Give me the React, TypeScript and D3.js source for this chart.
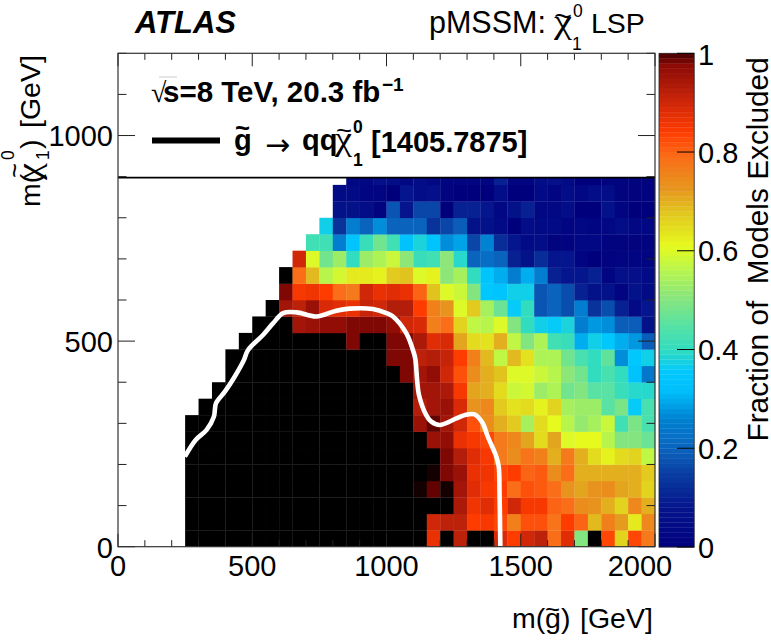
import React from "react";
import * as d3 from "d3";

const W = 771, H = 640;
const binW = 50, binH = 40;
const xTicks = [0, 500, 1000, 1500, 2000];
const yTicks = [0, 500, 1000];
const zTicks = [0, 0.2, 0.4, 0.6, 0.8, 1];

// first filled column of each row (in bins of 50 GeV), bottom row first
const rowStart = [5,5,5,5,5,5,5,5,6,7,8,8,9,10,11,12,12,13,14,15,16,16,17];
const row00 = [1,1,1,1,1,1,1,1,1,1,1,1,1,1,1,1,1,1,.87,1,.92,1,1,.89,.84,.9,.92,.79,.88,.5,1,.83,.66,.83,.77];
const row01 = [1,1,1,1,1,1,1,1,1,1,1,1,1,1,1,1,1,1,.9,.92,.92,.84,.85,.83,.76,.82,.82,.78,.84,.8,.69,.76,.72,.63,.75];
const row02 = [1,1,1,1,1,1,1,1,1,1,1,1,1,1,1,1,1,1,1,1,.94,.86,.88,.84,.9,.85,.85,.8,.79,.74,.73,.7,.66,.75,.7];
const row03 = [1,1,1,1,1,1,1,1,1,1,1,1,1,1,1,1,1,.999,.99,.999,.95,.88,.85,.84,.79,.82,.81,.79,.73,.71,.73,.74,.71,.7,.66];
const row04 = [1,1,1,1,1,1,1,1,1,1,1,1,1,1,1,1,1,1,.999,.98,.96,.87,.86,.83,.84,.8,.81,.74,.79,.7,.7,.7,.7,.7,.67];
const row05 = [1,1,1,1,1,1,1,1,1,1,1,1,1,1,1,1,1,1,1,.98,.93,.88,.85,.77,.74,.78,.76,.7,.77,.7,.65,.62,.65,.66,.57];
const row06 = [1,1,1,1,1,1,1,1,1,1,1,1,1,1,1,1,1,1,.96,.97,.87,.85,.83,.77,.75,.71,.65,.71,.6,.61,.61,.56,.5,.5,.47];
const row07 = [1,1,1,1,1,1,1,1,1,1,1,1,1,1,1,1,1,.96,.99,.95,.9,.82,.74,.7,.67,.54,.65,.61,.56,.52,.54,.58,.42,.49,.43];
const row08 = [1,1,1,1,1,1,1,1,1,1,1,1,1,1,1,1,.93,.95,.96,.89,.73,.75,.67,.64,.65,.62,.66,.54,.53,.53,.45,.49,.36,.43];
const row09 = [1,1,1,1,1,1,1,1,1,1,1,1,1,1,1,.95,.95,.94,.85,.71,.7,.65,.58,.59,.53,.55,.48,.5,.45,.45,.41,.39,.39];
const row10 = [1,1,1,1,1,1,1,1,1,1,1,1,1,.98,.95,.97,.9,.82,.74,.7,.68,.6,.6,.58,.56,.51,.48,.4,.43,.4,.33,.24];
const row11 = [1,1,1,1,1,1,1,1,1,1,1,1,.98,.98,.92,.93,.91,.84,.76,.69,.57,.69,.64,.55,.55,.48,.43,.4,.46,.27,.35,.37];
const row12 = [1,1,1,1,1,1,1,1,.98,1,1,.98,.98,.94,.88,.89,.71,.65,.64,.7,.57,.5,.55,.42,.41,.3,.37,.35,.3,.28,.19];
const row13 = [1,1,1,.95,.96,.97,.97,.98,.98,.98,.97,.9,.89,.76,.79,.66,.57,.56,.6,.5,.4,.37,.36,.38,.25,.28,.27,.19,.19,.07];
const row14 = [1,.95,.92,.96,.89,.88,.87,.91,.9,.93,.93,.84,.76,.73,.6,.67,.54,.47,.36,.4,.18,.2,.17,.25,.13,.17,.1,.04,.08];
const row15 = [.98,.85,.86,.84,.79,.77,.9,.87,.88,.87,.8,.68,.6,.58,.5,.35,.34,.37,.37,.18,.2,.17,.1,.07,.07,.02,.07,.04];
const row16 = [1,.79,.69,.56,.59,.63,.63,.62,.67,.68,.6,.62,.51,.54,.4,.34,.3,.25,.3,.25,.1,.08,.08,.1,.02,.06,.06,.04];
const row17 = [.9,.6,.48,.53,.4,.53,.55,.58,.51,.41,.42,.51,.39,.2,.22,.2,.1,.07,.12,.08,.08,.02,0,.01,.02,.02,.02];
const row18 = [.42,.42,.25,.34,.41,.48,.42,.33,.38,.34,.27,.29,.16,.26,.12,.08,.04,.05,.01,.01,.03,.03,.01,.01,.01,.01];
const row19 = [.37,.13,.25,.2,.27,.2,.2,.2,.13,.16,.19,.07,.07,.04,0,.05,.04,.04,.02,.03,.02,.03,.05,.03,.03];
const row20 = [.07,.07,.05,.01,.18,.08,.16,.16,0,.1,.1,.08,.03,.07,.1,.03,.03,.05,0,0,.07,.02,0,0];
const row21 = [.04,.04,.02,.02,0,.08,.05,.06,.01,0,0,0,.05,0,0,.04,.02,.05,.03,.05,.05,.01,.01,.01];
const row22 = [.03,.03,.06,.05,.03,.05,.03,.02,.02,.02,.02,.1,.02,.02,.05,.06,.04,0,0,.01,.01,.01,.01];
const rows = [row00,row01,row02,row03,row04,row05,row06,row07,row08,row09,row10,row11,row12,row13,row14,row15,row16,row17,row18,row19,row20,row21,row22];

const limitX = [249,290,330,357,365,398,435,469,484,540,577,615,665,739,813,863,949,1000,1024,1074,1102,1108,1114,1121,1148,1167,1198,1260,1291,1328,1358,1377,1409,1418,1421,1424];
const limitY = [219,260,284,316,349,377,414,454,478,515,543,568,570,560,574,579,578,568,560,519,471,454,405,369,320,304,296,312,320,322,301,268,219,195,130,0];

const colorStops = [0,.078,.146,.2,.26,.314,.355,.4,.44,.51,.557,.61,.68,.725,.79,.84,.88,.929,.976,.996,1];
const colorValues = ["#00007d","#05148c","#0a3ca0","#0a64be","#0082d2","#00befa","#00c8ff","#32dcbe","#50e1aa","#8ce678","#b4f550","#e6fa1e","#e1c31e","#e6961e","#fa6e19","#ff3c00","#e12d05","#b41e0a","#8c0a05","#500000","#000000"];

const font = "'Liberation Sans', Arial, sans-serif";
const serif = "'Liberation Serif', serif";

export default function App() {
  const x = d3.scaleLinear().domain([0, 2000]).range([118, 655]);
  const y = d3.scaleLinear().domain([0, 1200]).range([546.7, 53.3]);
  const z = d3.scaleLinear().domain([0, 1]).range([547, 53.3]);
  const color = d3.scaleLinear<string>().domain(colorStops).range(colorValues).interpolate(d3.interpolateRgb);
  const line = d3.line<number>().x((_, i) => x(limitX[i])).y((_, i) => y(limitY[i])).curve(d3.curveCatmullRom.alpha(0.5));
  const bands = d3.range(0, 100);
  const minorX = d3.range(0, 2001, 100);
  const minorY = d3.range(0, 1201, 100);
  return (
    <svg width={W} height={H} viewBox={`0 0 ${W} ${H}`} style={{ position: "absolute", left: 0, top: 0, background: "#fff" }} fontFamily={font} fill="#000">
      <defs>
        <clipPath id="plot"><rect x={118} y={53.3} width={537} height={493.4} /></clipPath>
      </defs>
      <g clipPath="url(#plot)">
        {rows.map((r, j) => r.map((v, k) => {
          const gx = (rowStart[j] + k) * binW, gy = j * binH;
          return <rect key={`${j}-${k}`} x={x(gx)} y={y(gy + binH)} width={x(gx + binW) - x(gx) + 0.3} height={y(gy) - y(gy + binH) + 0.3} fill={color(v)} />;
        }))}
        <path d={line(limitX) ?? ""} fill="none" stroke="#fff" strokeWidth={4.6} strokeLinejoin="round" />
        <rect x={118} y={53.3} width={537} height={124} fill="#fff" />
      </g>
      <line x1={118} x2={655} y1={y(900) + 1} y2={y(900) + 1} stroke="#000" strokeWidth={1.8} />

      {/* ticks */}
      <g stroke="#222" strokeWidth={1}>
        {minorX.map((t) => {
          const len = t % 500 === 0 ? 13 : 6.5;
          return <g key={t}>
            <line x1={x(t)} x2={x(t)} y1={546.7} y2={546.7 - len} />
            <line x1={x(t)} x2={x(t)} y1={53.3} y2={53.3 + len} />
          </g>;
        })}
        {minorY.map((t) => {
          const len = t % 500 === 0 ? 17 : 8.5;
          return <g key={t}>
            <line x1={118} x2={118 + len} y1={y(t)} y2={y(t)} />
            <line x1={655} x2={655 - len} y1={y(t)} y2={y(t)} />
          </g>;
        })}
      </g>
      <rect x={118} y={53.3} width={537} height={493.4} fill="none" stroke="#333" strokeWidth={1.2} />

      {/* colour bar */}
      {bands.map((b) => (
        <rect key={b} x={659} width={35.2} y={z((b + 1) / 100)} height={z(b / 100) - z((b + 1) / 100) + 0.3} fill={color((b + 0.5) / 100)} />
      ))}
      <rect x={659} y={53.3} width={35.2} height={493.7} fill="none" stroke="#222" strokeWidth={0.8} />
      {zTicks.map((t) => (
        <line key={t} x1={677} x2={694.2} y1={z(t)} y2={z(t)} stroke="#000" strokeWidth={1} />
      ))}
      {zTicks.map((t) => (
        <text key={t} x={698} y={t === 1 ? 65 : t === 0 ? 558 : z(t) + 10.5} fontSize={29}>{String(t)}</text>
      ))}
      <text transform="translate(768,441.5) rotate(-90)" fontSize={29.8} xmlSpace="preserve" style={{ whiteSpace: "pre" }}>{"Fraction of  Models Excluded"}</text>

      {/* axis tick labels */}
      {xTicks.map((t) => (
        <text key={t} x={t === 2000 ? 640 : x(t)} y={576} fontSize={29} textAnchor="middle">{t}</text>
      ))}
      {yTicks.map((t) => (
        <text key={t} x={113} y={t === 0 ? 558 : y(t) + 10.5} fontSize={29} textAnchor="end">{t}</text>
      ))}

      {/* headers */}
      <text x={135} y={33} fontSize={31} fontWeight="bold" fontStyle="italic">ATLAS</text>
      <text x={429} y={33} fontSize={30.5}>pMSSM:</text>
      <text x={554} y={33} fontSize={34} fontFamily={serif} textLength={18} lengthAdjust="spacingAndGlyphs">χ</text>
      <text x={554} y={26} fontSize={28} textLength={18} lengthAdjust="spacingAndGlyphs">~</text>
      <text x={573} y={17} fontSize={17.5}>0</text>
      <text x={572} y={50} fontSize={17.5}>1</text>
      <text x={591} y={33} fontSize={28.5}>LSP</text>

      {/* legend */}
      <text x={151} y={102} fontSize={28} fontFamily={serif}>√</text>
      <line x1={159} x2={177} y1={77} y2={77} stroke="#ccc" strokeWidth={1} />
      <text x={163} y={102} fontSize={29.5} fontWeight="bold">s=8 TeV, 20.3 fb</text>
      <text x={382} y={91} fontSize={19} fontWeight="bold">−1</text>
      <line x1={152} x2={220} y1={140.5} y2={140.5} stroke="#000" strokeWidth={6} />
      <text x={234} y={150} fontSize={29} fontWeight="bold">g</text>
      <text x={235} y={137} fontSize={26} fontWeight="bold" textLength={15} lengthAdjust="spacingAndGlyphs">~</text>
      <text x={265} y={155} fontSize={30} fontFamily="'DejaVu Sans', sans-serif">→</text>
      <text x={302} y={150} fontSize={29} fontWeight="bold">qq</text>
      <text x={335} y={150} fontSize={33} fontFamily={serif} textLength={17} lengthAdjust="spacingAndGlyphs">χ</text>
      <text x={336} y={139} fontSize={26} textLength={16} lengthAdjust="spacingAndGlyphs">~</text>
      <text x={353} y={133} fontSize={17.5} fontWeight="bold">0</text>
      <text x={353} y={166} fontSize={17.5} fontWeight="bold">1</text>
      <text x={371} y={152} fontSize={29} fontWeight="bold">[1405.7875]</text>

      {/* x axis title */}
      <text x={512} y={628} fontSize={28.5}>m(</text>
      <text x={545} y={628} fontSize={28.5}>g</text>
      <text x={545} y={618} fontSize={26} textLength={15} lengthAdjust="spacingAndGlyphs">~</text>
      <text x={561} y={628} fontSize={28.5}>)</text>
      <text x={580} y={628} fontSize={28.5}>[GeV]</text>

      {/* y axis title */}
      <g transform="translate(40,207) rotate(-90)">
        <text x={0} y={0} fontSize={28.5}>m(</text>
        <text x={27} y={0} fontSize={34} fontFamily={serif} textLength={17} lengthAdjust="spacingAndGlyphs">χ</text>
        <text x={29} y={-17} fontSize={26} textLength={15} lengthAdjust="spacingAndGlyphs">~</text>
        <text x={47} y={-26} fontSize={17.5}>0</text>
        <text x={47} y={9} fontSize={17.5}>1</text>
        <text x={58} y={0} fontSize={28.5}>)</text>
        <text x={79} y={0} fontSize={28.5}>[GeV]</text>
      </g>
    </svg>
  );
}
